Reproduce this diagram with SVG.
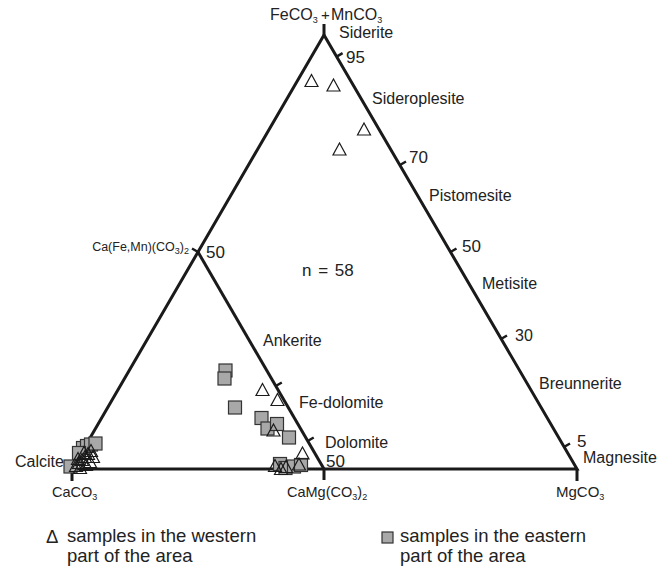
<svg xmlns="http://www.w3.org/2000/svg" width="668" height="569" viewBox="0 0 668 569">
<style>
text{font-family:"Liberation Sans",Arial,sans-serif;fill:#222;}
.lb{font-size:16px;}
.num{font-size:17px;}
.fm{font-size:14.5px;}
.sub{font-size:9px;}
.lg{font-size:18.5px;}
.edge{stroke:#1a1a1a;stroke-width:3;fill:none;stroke-linecap:butt;}
.tick{stroke:#1a1a1a;stroke-width:2.5;fill:none;}
.tri{fill:none;stroke:#1a1a1a;stroke-width:1.2;}
.sq{fill:#a8a8a8;stroke:#333;stroke-width:1.2;}
</style>
<defs>
<path id="t" d="M0,-6.5 L6.5,5.5 L-6.5,5.5 Z" class="tri"/>
<rect id="s" x="-6.5" y="-6.5" width="13" height="13" class="sq"/>
</defs>
<rect width="668" height="569" fill="#fff"/>
<g id="connectors">
<path class="edge" d="M72,469 L324,35 L577,469 Z"/>
<path class="edge" d="M198,252 L324,469"/>
<path class="edge" d="M324,24 V37 M72,469 V481 M324,469 V480 M577,469 V481"/>
<path class="tick" d="M336.6,56.7 l6,-3.5 M400,165 l6,-3.5 M450.5,252 l6,-3.5 M501,339 l6,-3.5 M564,447 l6,-3.5 M198,252 l-6,-3.5 M275.8,386 l6,-3.5 M307.7,441 l6,-3.5"/>
</g>
<g id="apex-fe"><text style="font-size:16px" x="270" y="20">FeCO<tspan class="sub" dy="3">3</tspan></text><text style="font-size:15px" x="321" y="20">+</text><text style="font-size:16px" x="331" y="20">MnCO<tspan class="sub" dy="3">3</tspan></text></g>
<g id="corner-ca"><text class="fm" x="52" y="497">CaCO<tspan class="sub" dy="3">3</tspan></text></g>
<g id="corner-camg"><text class="fm" x="287" y="497">CaMg(CO<tspan class="sub" dy="3">3</tspan><tspan dy="-3">)</tspan><tspan class="sub" dy="3">2</tspan></text></g>
<g id="corner-mg"><text style="font-size:15px" x="556" y="497">MgCO<tspan class="sub" dy="3">3</tspan></text></g>
<g id="mid-left"><text style="font-size:12.5px" x="189" y="251" text-anchor="end">Ca(Fe,Mn)(CO<tspan class="sub" dy="3">3</tspan><tspan dy="-3">)</tspan><tspan class="sub" dy="3">2</tspan></text></g>
<g id="labels">
<text class="lb" x="339" y="38">Siderite</text>
<text class="num" x="346" y="63">95</text>
<text class="lb" x="372" y="104">Sideroplesite</text>
<text class="num" x="409" y="163">70</text>
<text class="lb" x="429" y="201">Pistomesite</text>
<text class="num" x="462" y="252">50</text>
<text class="lb" x="482" y="289">Metisite</text>
<text class="lb" x="515" y="341">30</text>
<text class="lb" x="539" y="389">Breunnerite</text>
<text class="num" x="577" y="447">5</text>
<text class="lb" x="583" y="463">Magnesite</text>
<text class="lb" x="15" y="467">Calcite</text>
<text class="num" x="206" y="258">50</text>
<text class="lb" x="302" y="276" style="font-size:17px;word-spacing:2px">n = 58</text>
<text class="lb" x="263" y="346">Ankerite</text>
<text class="lb" x="299" y="408">Fe-dolomite</text>
<text class="lb" x="325" y="448">Dolomite</text>
<text class="num" x="326" y="467">50</text>
</g>
<g id="squares">
<use href="#s" x="225.5" y="370.5"/><use href="#s" x="224.5" y="378.5"/><use href="#s" x="235" y="407.5"/>
<use href="#s" x="261.5" y="418"/><use href="#s" x="267.5" y="428.5"/><use href="#s" x="277" y="424"/><use href="#s" x="289" y="437.5"/>
<use href="#s" x="280" y="464"/><use href="#s" x="285.5" y="468"/><use href="#s" x="294" y="466.5"/><use href="#s" x="301" y="465"/>
<use href="#s" x="83" y="448"/><use href="#s" x="87" y="446"/><use href="#s" x="91" y="444.5"/><use href="#s" x="95.5" y="443.5"/><use href="#s" x="79" y="453"/><use href="#s" x="70.5" y="466.5"/>
</g>
<g id="triangles">
<use href="#t" x="311.5" y="81"/><use href="#t" x="333.5" y="85.5"/><use href="#t" x="364" y="129.5"/><use href="#t" x="339.5" y="149.5"/>
<use href="#t" x="262.5" y="390"/><use href="#t" x="277.5" y="400"/><use href="#t" x="273.5" y="430.5"/><use href="#t" x="302.5" y="453.5"/>
<use href="#t" x="275" y="466"/><use href="#t" x="286" y="467"/><use href="#t" x="299" y="464.5"/><use href="#t" x="281" y="469"/>
<use href="#t" x="76" y="466"/><use href="#t" x="79" y="463"/><use href="#t" x="82" y="460"/><use href="#t" x="85" y="457"/><use href="#t" x="88" y="454"/><use href="#t" x="91" y="451"/><use href="#t" x="80" y="468"/><use href="#t" x="86" y="465"/><use href="#t" x="90" y="462"/><use href="#t" x="78" y="459"/><use href="#t" x="93" y="457"/><use href="#t" x="84" y="453"/>
</g>
<g id="legend">
<text class="lg" x="46" y="543">Δ</text>
<text class="lg" x="67" y="542">samples in the western</text>
<text class="lg" x="67" y="562">part of the area</text>
<rect x="382" y="532" width="11" height="11" class="sq"/>
<text class="lg" x="400" y="542">samples in the eastern</text>
<text class="lg" x="400" y="562">part of the area</text>
</g>
</svg>
